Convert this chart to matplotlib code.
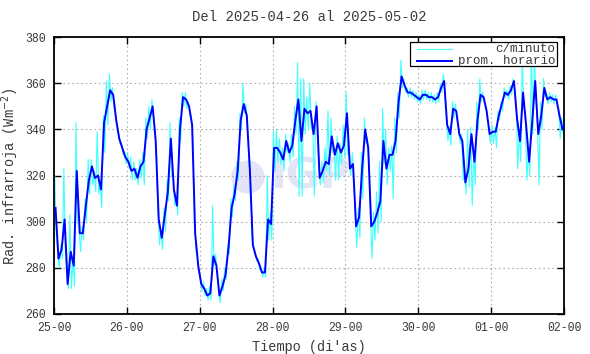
import matplotlib
matplotlib.use('Agg')
import matplotlib.pyplot as plt
from matplotlib.patches import Rectangle, Ellipse
import numpy as np

# Hourly averages (one value per hour, from 25-00)
prom_horario = [
    306, 284, 288, 301, 273, 287, 281, 322, 295, 295, 307, 318, 324, 319, 320, 314, 343, 350, 357, 355, 344, 336, 332, 328,
    326, 322, 323, 319, 324, 326, 340, 345, 350, 335, 301, 293, 303, 313, 336, 314, 307, 340, 354, 353, 350, 342, 295, 281,
    273, 271, 268, 269, 285, 281, 268, 272, 277, 289, 306, 312, 322, 344, 351, 346, 323, 290, 285, 282, 278, 278, 301, 299,
    332, 332, 330, 327, 335, 330, 333, 344, 353, 335, 349, 347, 348, 338, 350, 319, 322, 326, 325, 337, 329, 334, 330, 333,
    347, 323, 325, 298, 302, 323, 340, 332, 298, 300, 304, 309, 335, 323, 329, 329, 335, 352, 363, 359, 356, 356, 355, 354,
    353, 355, 355, 354, 354, 353, 354, 358, 361, 342, 338, 349, 348, 338, 335, 317, 323, 338, 326, 344, 355, 354, 348, 338,
    339, 339, 346, 351, 356, 355, 357, 361, 345, 335, 356, 342, 326, 343, 361, 338, 346, 358, 353, 354, 353, 353, 346, 340,
    343,
]

# per-minute data, kept as the highest / lowest value seen in each hour
minuto_max = [
    320, 286, 290, 323, 276, 303, 284, 343, 297, 298, 310, 327, 327, 322, 339, 316, 346, 361, 364, 358, 347, 338, 334, 330,
    330, 328, 326, 323, 327, 330, 345, 350, 353, 340, 305, 296, 306, 318, 343, 318, 311, 345, 356, 356, 352, 344, 300, 285,
    276, 274, 271, 272, 307, 286, 270, 275, 280, 290, 310, 316, 326, 347, 360, 351, 325, 293, 287, 284, 280, 280, 320, 304,
    339, 340, 336, 332, 338, 334, 338, 350, 369, 362, 362, 354, 360, 342, 352, 323, 326, 332, 348, 345, 333, 337, 334, 342,
    356, 327, 330, 302, 306, 330, 345, 336, 302, 304, 313, 326, 349, 340, 332, 333, 345, 356, 370, 362, 358, 358, 357, 356,
    355, 357, 357, 356, 356, 355, 356, 360, 364, 345, 341, 352, 351, 341, 338, 322, 340, 341, 330, 352, 362, 356, 350, 340,
    342, 341, 348, 352, 358, 357, 359, 362, 350, 340, 372, 345, 330, 377, 372, 342, 352, 362, 355, 356, 355, 355, 349, 345,
    345,
]
minuto_min = [
    295, 280, 284, 288, 271, 271, 272, 300, 287, 292, 300, 312, 316, 313, 312, 306, 330, 342, 352, 350, 341, 334, 329, 325,
    323, 318, 318, 316, 319, 316, 336, 340, 346, 330, 290, 288, 296, 309, 320, 307, 303, 335, 350, 349, 346, 335, 288, 279,
    270, 268, 266, 266, 281, 277, 265, 270, 275, 286, 302, 309, 318, 340, 347, 342, 318, 288, 283, 279, 276, 276, 292, 292,
    322, 326, 325, 322, 330, 326, 328, 338, 311, 311, 338, 340, 340, 311, 345, 316, 317, 322, 320, 330, 318, 318, 325, 328,
    330, 320, 318, 289, 293, 310, 334, 325, 284, 292, 295, 300, 325, 316, 322, 310, 330, 345, 358, 356, 354, 354, 353, 352,
    351, 353, 353, 352, 352, 351, 352, 356, 358, 335, 333, 345, 344, 334, 318, 312, 315, 307, 316, 340, 352, 352, 345, 334,
    334, 332, 344, 348, 354, 353, 355, 358, 323, 326, 350, 318, 320, 338, 355, 316, 340, 354, 351, 352, 351, 351, 336, 338,
    341,
]

dias = ['25-00', '26-00', '27-00', '28-00', '29-00', '30-00', '01-00', '02-00']
y_ticks = [260, 280, 300, 320, 340, 360, 380]

txt_color = '#3a3a3a'
plt.rcParams['font.family'] = ['Liberation Mono', 'DejaVu Sans Mono']
plt.rcParams['font.size'] = 8.3

fig = plt.figure(figsize=(5.9, 3.54), dpi=100)
ax = fig.add_axes([0.0915, 0.113, 0.8645, 0.782])

# time axis in days from 25-00
horas = (np.arange(len(prom_horario)) + 0.5) / 24.0
t_min = np.empty(2 * len(minuto_max))
v_min = np.empty(2 * len(minuto_max))
t_min[0::2] = (np.arange(len(minuto_max)) + 0.25) / 24.0
t_min[1::2] = (np.arange(len(minuto_min)) + 0.75) / 24.0
v_min[0::2] = minuto_max
v_min[1::2] = minuto_min

# faint IGP watermark
ax.add_patch(Ellipse((0.38, 0.495), 0.063, 0.115, transform=ax.transAxes, color='#e4e4f7', zorder=0))
ax.text(0.424, 0.495, 'IGP', transform=ax.transAxes, fontsize=30, fontweight='bold',
        family='DejaVu Sans', color='#e4e4f7', va='center', ha='left', zorder=0)

ax.plot(t_min, v_min, color='#40ffff', lw=0.8, zorder=2)
ax.plot(horas, prom_horario, color='#0000ff', lw=1.4, zorder=3)

ax.set_xlim(0, 7)
ax.set_ylim(260, 380)
ax.set_xticks(range(len(dias)))
ax.set_xticklabels(dias)
ax.set_yticks(y_ticks)
ax.grid(True, color='#b0b0b0', linestyle=(0, (1.5, 2.5)), linewidth=0.8)
ax.tick_params(direction='in', length=5, width=1, top=True, right=True,
               colors='black', labelcolor=txt_color, pad=6)
for s in ax.spines.values():
    s.set_linewidth(1.3)

ax.set_title('Del 2025-04-26 al 2025-05-02', color=txt_color, pad=12)
ax.set_xlabel("Tiempo (di'as)", color=txt_color, labelpad=4, fontsize=9.8)
ax.set_ylabel('Rad. infrarroja (Wm$^{-2}$)', color=txt_color, labelpad=3, fontsize=9.8)

# legend drawn like gnuplot: samples left, text right aligned
ax.add_patch(Rectangle((0.698, 0.895), 0.288, 0.088, transform=ax.transAxes,
                       facecolor='white', edgecolor='black', lw=0.9, zorder=5))
ax.plot([0.711, 0.780], [0.959, 0.959], transform=ax.transAxes, color='#40ffff', lw=0.8, zorder=6)
ax.plot([0.711, 0.780], [0.913, 0.913], transform=ax.transAxes, color='#0000ff', lw=1.4, zorder=6)
ax.text(0.983, 0.959, 'c/minuto', transform=ax.transAxes, ha='right', va='center',
        color=txt_color, fontsize=9, zorder=6)
ax.text(0.983, 0.913, 'prom. horario', transform=ax.transAxes, ha='right', va='center',
        color=txt_color, fontsize=9, zorder=6)

fig.savefig('out.png', dpi=100)
